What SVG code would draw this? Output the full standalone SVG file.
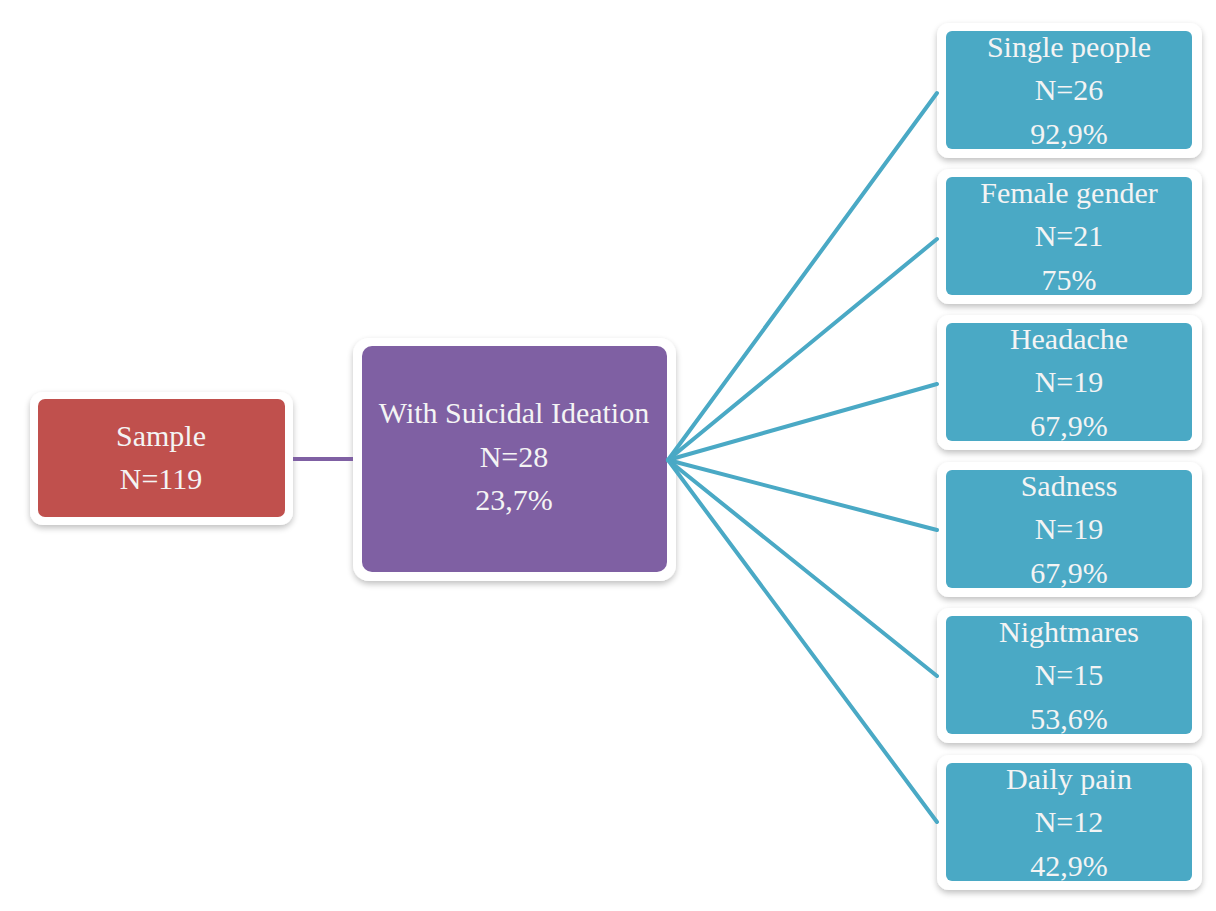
<svg xmlns="http://www.w3.org/2000/svg" width="1216" height="911" viewBox="0 0 1216 911">
<defs>
<filter id="sh" x="-10%" y="-10%" width="120%" height="130%">
<feGaussianBlur in="SourceAlpha" stdDeviation="3"/>
<feOffset dx="0" dy="3" result="b"/>
<feComponentTransfer><feFuncA type="linear" slope="0.25"/></feComponentTransfer>
<feMerge><feMergeNode/><feMergeNode in="SourceGraphic"/></feMerge>
</filter>
</defs>
<style>
.frame{fill:#ffffff;filter:url(#sh)}
.red{fill:#c0504d}
.pur{fill:#7f60a3}
.teal{fill:#4aa9c5}
text{font-family:"Liberation Serif","DejaVu Serif",serif;font-size:30px;fill:#f4f4f4;text-anchor:middle}
.lp{stroke:#7f60a3;stroke-width:4;fill:none}
.lt{stroke:#4aa9c5;stroke-width:4;fill:none;stroke-linecap:round}
</style>
<rect width="1216" height="911" fill="#ffffff"/>
<g id="sample">
<rect class="frame" x="30" y="392" width="263" height="133" rx="13"/>
<rect class="red" x="38" y="399" width="247" height="118" rx="7"/>
<text x="161" y="446">Sample</text>
<text x="161" y="489">N=119</text>
</g>
<g id="suicidal">
<rect class="frame" x="353" y="338" width="323" height="243" rx="16"/>
<rect class="pur" x="362" y="346" width="305" height="226" rx="10"/>
<text x="514" y="423">With Suicidal Ideation</text>
<text x="514" y="467">N=28</text>
<text x="514" y="510">23,7%</text>
</g>
<g id="single">
<rect class="frame" x="937" y="23" width="265" height="135" rx="12"/>
<rect class="teal" x="946" y="31" width="246" height="118" rx="6"/>
<text x="1069" y="57">Single people</text>
<text x="1069" y="100">N=26</text>
<text x="1069" y="144">92,9%</text>
</g>
<g id="female">
<rect class="frame" x="937" y="169" width="265" height="135" rx="12"/>
<rect class="teal" x="946" y="177" width="246" height="118" rx="6"/>
<text x="1069" y="203">Female gender</text>
<text x="1069" y="246">N=21</text>
<text x="1069" y="290">75%</text>
</g>
<g id="headache">
<rect class="frame" x="937" y="315" width="265" height="135" rx="12"/>
<rect class="teal" x="946" y="323" width="246" height="118" rx="6"/>
<text x="1069" y="349">Headache</text>
<text x="1069" y="392">N=19</text>
<text x="1069" y="436">67,9%</text>
</g>
<g id="sadness">
<rect class="frame" x="937" y="462" width="265" height="135" rx="12"/>
<rect class="teal" x="946" y="470" width="246" height="118" rx="6"/>
<text x="1069" y="496">Sadness</text>
<text x="1069" y="539">N=19</text>
<text x="1069" y="583">67,9%</text>
</g>
<g id="nightmares">
<rect class="frame" x="937" y="608" width="265" height="135" rx="12"/>
<rect class="teal" x="946" y="616" width="246" height="118" rx="6"/>
<text x="1069" y="642">Nightmares</text>
<text x="1069" y="685">N=15</text>
<text x="1069" y="729">53,6%</text>
</g>
<g id="dailypain">
<rect class="frame" x="937" y="755" width="265" height="135" rx="12"/>
<rect class="teal" x="946" y="763" width="246" height="118" rx="6"/>
<text x="1069" y="789">Daily pain</text>
<text x="1069" y="832">N=12</text>
<text x="1069" y="876">42,9%</text>
</g>
<g id="connectors">
<line class="lp" x1="293" y1="459" x2="353" y2="459"/>
<line class="lt" x1="668" y1="460" x2="937" y2="93"/>
<line class="lt" x1="668" y1="460" x2="937" y2="239"/>
<line class="lt" x1="668" y1="460" x2="937" y2="384"/>
<line class="lt" x1="668" y1="460" x2="937" y2="530"/>
<line class="lt" x1="668" y1="460" x2="937" y2="676"/>
<line class="lt" x1="668" y1="460" x2="937" y2="822"/>
</g>
</svg>
